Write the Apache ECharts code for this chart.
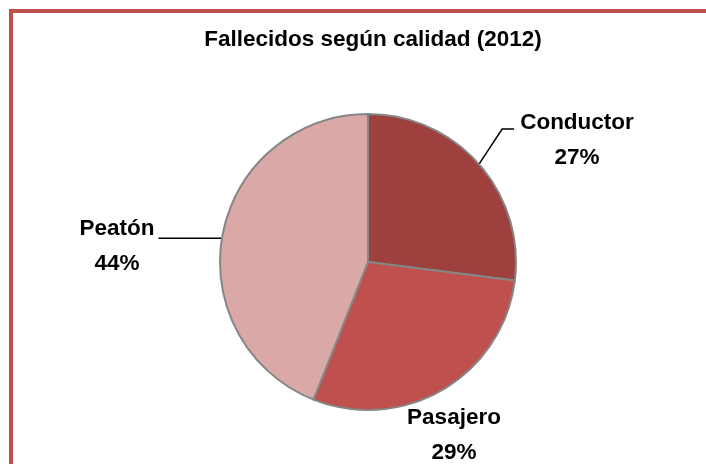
<!DOCTYPE html>
<html>
<head>
<meta charset="utf-8">
<script src="https://cdn.jsdelivr.net/npm/echarts@6/dist/echarts.min.js"></script>
<style>
  html, body { margin: 0; padding: 0; background: #fff; }
  #chart { width: 706px; height: 464px; }
</style>
</head>
<body>
<div id="chart"></div>
<script>
// datos del gráfico
const categorias = ['Conductor', 'Pasajero', 'Peatón'];
const porcentajes = [27, 29, 44];
const colores = ['#9e413e', '#c0504d', '#d9a8a7'];

// posiciones de las etiquetas (centro del bloque de texto)
const etiquetaPos = [
  { x: 577, y: 140 },
  { x: 454, y: 435 },
  { x: 117, y: 246 }
];

const myChart = echarts.init(document.getElementById('chart'));
const option = {
  animation: false,
  backgroundColor: '#fff',
  title: {
    text: 'Fallecidos según calidad (2012)',
    left: 368,
    textAlign: 'center',
    top: 23,
    textStyle: {
      fontFamily: 'Liberation Sans',
      fontSize: 22.5,
      fontWeight: 'bold',
      color: '#000'
    }
  },
  graphic: [
    {
      type: 'rect',
      shape: { x: 11, y: 11, width: 760, height: 500 },
      style: { fill: 'none', stroke: '#c0504d', lineWidth: 4 },
      silent: true
    }
  ],
  series: [
    {
      type: 'pie',
      center: [368, 262],
      radius: 148,
      startAngle: 90,
      clockwise: true,
      percentPrecision: 0,
      data: categorias.map((c, i) => ({
        name: c,
        value: porcentajes[i],
        itemStyle: { color: colores[i] },
        labelLine: { show: i !== 1 }
      })),
      itemStyle: { borderColor: '#868686', borderWidth: 2 },
      label: {
        show: true,
        position: 'outside',
        formatter: '{b}\n{d}%',
        fontFamily: 'Liberation Sans',
        fontSize: 22.5,
        fontWeight: 'bold',
        lineHeight: 35,
        color: '#000',
        align: 'center'
      },
      labelLine: {
        show: true,
        length: 20,
        length2: 12,
        lineStyle: { color: '#000', width: 1.5 }
      },
      labelLayout: function (params) {
        const i = params.dataIndex;
        const p = etiquetaPos[i];
        const w = params.labelRect.width;
        const out = { x: p.x, y: p.y, align: 'center', verticalAlign: 'middle' };
        const pts = params.labelLinePoints;
        if (pts && pts.length) {
          const a = pts[0];
          if (i === 0) {
            const left = p.x - w / 2;
            out.labelLinePoints = [a, [left - 18, p.y - 11], [left - 6, p.y - 11]];
          } else if (i === 2) {
            const right = p.x + w / 2;
            const yl = a[1] + 4;
            out.labelLinePoints = [[a[0] - 1, yl], [right + 4, yl]];
          }
        }
        return out;
      }
    }
  ]
};
myChart.setOption(option);
</script>
</body>
</html>
